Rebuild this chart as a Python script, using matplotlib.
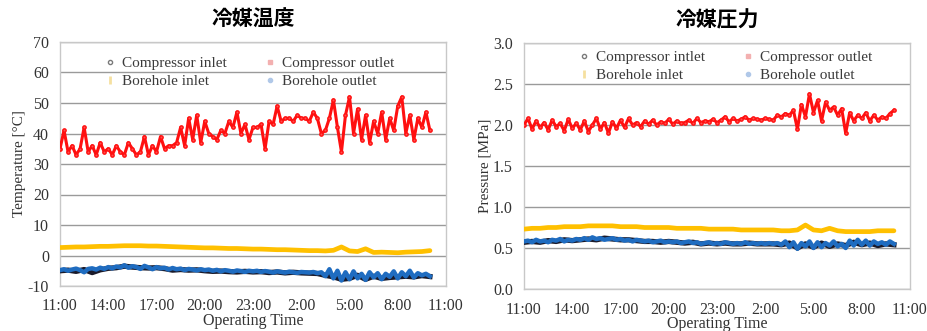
import numpy as np
import matplotlib
matplotlib.use("Agg")
import matplotlib.pyplot as plt
from matplotlib.lines import Line2D

# ---------------- data ----------------
hour_ticks = [0, 3, 6, 9, 12, 15, 18, 21, 24]
hour_labels = ["11:00", "14:00", "17:00", "20:00", "23:00", "2:00", "5:00", "8:00", "11:00"]

# Temperature [°C]  (0.25 h steps)
temp_comp_out = [35, 41, 34, 36, 33, 35, 42, 34, 36, 33, 37, 34, 35, 33, 36, 34, 33, 37, 35, 33,
                 34, 39, 33, 36, 34, 39, 35, 36, 36, 37, 42, 36, 45, 38, 46, 37, 44, 40, 39, 38,
                 41, 40, 44, 42, 47, 40, 43, 38, 42, 42, 43, 35, 44, 43, 49, 44, 45, 45, 44, 46,
                 45, 45, 44, 47, 45, 40, 41, 45, 51, 42, 34, 46, 52, 40, 48, 38, 46, 37, 44, 40,
                 47, 38, 45, 41, 49, 52, 40, 46, 38, 45, 42, 47, 41]
temp_bh_out = [-4.8, -4.5, -5.0, -4.6, -4.3, -4.8, -5.5, -4.4, -4.2, -4.6, -4.0, -4.4, -3.8,
               -4.2, -3.6, -3.9, -3.2, -4.0, -3.5, -3.8, -4.4, -3.4, -3.9, -4.5, -3.8,
               -4.2, -4.0, -4.6, -4.1, -4.5, -4.3, -4.8, -4.4, -4.6, -4.9, -4.5, -4.8,
               -4.6, -5.0, -4.7, -5.2, -4.8, -5.0, -5.3, -4.9, -5.1, -5.4, -5.0, -5.2,
               -5.0, -5.4, -5.1, -5.3, -5.6, -5.2, -5.4, -5.6, -5.3, -5.5, -5.7, -5.4,
               -5.5, -5.6, -5.4, -5.8, -5.5, -6.8, -4.5, -7.5, -5.0, -8.2, -5.5, -7.8,
               -5.2, -7.5, -6.0, -8.0, -5.5, -7.2, -5.8, -7.8, -6.0, -7.0, -5.2, -7.5,
               -5.5, -6.8, -5.0, -7.2, -5.8, -6.5, -6.0, -6.8]
# (0.5 h steps)
temp_comp_in = [-5.0, -4.8, -5.2, -4.6, -5.6, -4.7, -4.2,
                -4.0, -3.5, -3.8, -4.0, -4.1, -4.0,
                -4.3, -4.8, -4.6, -4.8, -4.7, -5.0,
                -5.2, -5.1, -5.3, -5.4, -5.2, -5.4,
                -5.3, -5.6, -5.4, -5.7, -5.5, -5.7,
                -5.8, -5.9, -6.5, -7.0, -7.8, -7.5,
                -6.5, -7.8, -6.8, -7.5, -7.2, -7.0,
                -6.8, -7.0, -6.6, -6.9]
temp_bh_in = [2.6, 2.7, 2.8, 2.8, 2.9, 3.0, 3.0, 3.1, 3.2, 3.2,
              3.2, 3.1, 3.1, 3.0, 2.9, 2.8, 2.7, 2.6, 2.5, 2.5,
              2.4, 2.3, 2.3, 2.2, 2.1, 2.1, 2.0, 1.9, 1.9, 1.8,
              1.7, 1.6, 1.6, 1.5, 1.7, 2.8, 1.5, 1.3, 2.2, 1.0,
              1.1, 1.0, 0.9, 1.1, 1.2, 1.3, 1.6]

# Pressure [MPa]  (0.25 h steps)
pres_comp_out = [2.00, 2.08, 1.95, 2.05, 1.97, 2.03, 1.94, 2.06, 1.98, 2.02, 1.93, 2.07, 1.96,
                 2.02, 1.94, 2.05, 1.92, 2.00, 2.08, 1.95, 2.03, 1.90, 2.04, 1.96, 2.06,
                 1.97, 2.08, 2.00, 2.03, 1.98, 2.05, 2.01, 2.06, 2.00, 2.04, 2.02, 2.07,
                 2.01, 2.05, 2.02, 2.03, 2.06, 2.02, 2.08, 2.03, 2.05, 2.04, 2.07, 2.03,
                 2.06, 2.10, 2.04, 2.08, 2.05, 2.07, 2.10, 2.06, 2.08, 2.07, 2.06, 2.08,
                 2.07, 2.06, 2.12, 2.10, 2.14, 2.12, 2.18, 1.95, 2.25, 2.10, 2.38, 2.15,
                 2.30, 2.05, 2.28, 2.18, 2.22, 2.12, 2.20, 1.90, 2.15, 2.05, 2.12, 2.08,
                 2.15, 2.05, 2.12, 2.06, 2.10, 2.08, 2.14, 2.18]
pres_bh_out = [0.58, 0.59, 0.57, 0.60, 0.58, 0.59, 0.57, 0.60, 0.59, 0.61, 0.58, 0.60, 0.59,
               0.61, 0.60, 0.62, 0.60, 0.63, 0.61, 0.62, 0.60, 0.61, 0.62, 0.60, 0.61,
               0.59, 0.60, 0.58, 0.60, 0.59, 0.58, 0.59, 0.57, 0.58, 0.59, 0.57, 0.58,
               0.57, 0.58, 0.56, 0.57, 0.58, 0.56, 0.57, 0.55, 0.56, 0.57, 0.55, 0.56,
               0.55, 0.57, 0.56, 0.55, 0.56, 0.55, 0.57, 0.55, 0.56, 0.55, 0.56, 0.55,
               0.56, 0.55, 0.56, 0.54, 0.58, 0.51, 0.57, 0.49, 0.56, 0.52, 0.58, 0.50,
               0.57, 0.51, 0.56, 0.53, 0.58, 0.52, 0.55, 0.50, 0.59, 0.53, 0.60, 0.54,
               0.59, 0.53, 0.58, 0.55, 0.57, 0.54, 0.58, 0.55]
# (0.5 h steps)
pres_comp_in = [0.57, 0.58, 0.57, 0.59, 0.58, 0.60, 0.59,
                0.60, 0.61, 0.60, 0.62, 0.61, 0.60,
                0.60, 0.59, 0.58, 0.58, 0.57, 0.58,
                0.57, 0.56, 0.57, 0.55, 0.56, 0.55,
                0.56, 0.55, 0.55, 0.56, 0.55, 0.55,
                0.55, 0.54, 0.56, 0.50, 0.55, 0.51,
                0.56, 0.52, 0.55, 0.53, 0.57, 0.54,
                0.56, 0.53, 0.55, 0.54]
pres_bh_in = [0.73, 0.74, 0.74, 0.75, 0.75, 0.76, 0.76, 0.76, 0.77, 0.77,
              0.77, 0.77, 0.76, 0.76, 0.76, 0.75, 0.75, 0.75, 0.75, 0.74,
              0.74, 0.74, 0.74, 0.73, 0.73, 0.73, 0.73, 0.72, 0.72, 0.72,
              0.72, 0.72, 0.71, 0.71, 0.72, 0.78, 0.72, 0.71, 0.74, 0.71,
              0.70, 0.70, 0.70, 0.70, 0.71, 0.71, 0.71]

# ---------------- style ----------------
SERIF = ["Liberation Serif", "DejaVu Serif"]
CJK = ["Noto Sans CJK JP", "DejaVu Sans"]
C_RED = "#ff1010"
C_YEL = "#ffc000"
C_BLU = "#1f6cc0"
C_BLK = "#1a1a2a"
GRID = "#9a9a9a"
FRAME = "#c8c8c8"
TXT = "#333333"


def times(vals, step):
    return np.arange(len(vals)) * step


fig = plt.figure(figsize=(9.28, 3.31), dpi=100)
ax1 = fig.add_axes([60 / 928, 1 - 286 / 331, 386 / 928, 244 / 331])
ax2 = fig.add_axes([524 / 928, 1 - 289 / 331, 386 / 928, 246 / 331])


def draw(ax, comp_in, comp_out, bh_in, bh_out):
    ax.plot(times(bh_in, 0.5), bh_in, color=C_YEL, lw=3.4, solid_capstyle="round", zorder=3)
    ax.plot(times(comp_in, 0.5), comp_in, color=C_BLK, lw=3.8, zorder=3)
    ax.plot(times(bh_out, 0.25), bh_out, color=C_BLU, lw=3.2, zorder=4)
    ax.plot(times(comp_out, 0.25), comp_out, color=C_RED, lw=2.2, marker="o", ms=2.4,
            mec=C_RED, mfc="#ff5050", zorder=5)


def style(ax, ylim, yticks, yfmt, ylabel, title, legend_labels, leg_anchor):
    ax.set_xlim(0, 24)
    ax.set_ylim(*ylim)
    ax.set_xticks(hour_ticks)
    ax.set_xticklabels(hour_labels)
    ax.set_yticks(yticks)
    ax.set_yticklabels([yfmt.format(v) for v in yticks])
    for lab in ax.get_xticklabels() + ax.get_yticklabels():
        lab.set_family(SERIF)
        lab.set_fontsize(11.5)
        lab.set_color(TXT)
    ax.tick_params(axis="x", length=0, pad=9)
    ax.tick_params(axis="y", length=0, pad=8)
    ax.grid(axis="y", color=GRID, lw=1.0, zorder=0)
    ax.set_axisbelow(True)
    for s in ax.spines.values():
        s.set_color(FRAME)
        s.set_linewidth(1.0)
    ax.set_ylabel(ylabel, family=SERIF, fontsize=11, color=TXT, labelpad=1)
    ax.set_xlabel("Operating Time", family=SERIF, fontsize=11.5, color=TXT, labelpad=-1)
    ax.set_title(title, family=CJK, fontsize=15, fontweight="bold", pad=12)
    handles = [
        Line2D([], [], ls="none", marker="o", ms=3, mfc="white", mec="#7a7a7a"),
        Line2D([], [], ls="none", marker="s", ms=3, mfc="#f3b0b0", mec="#f3b0b0"),
        Line2D([], [], ls="none", marker="|", ms=6, mec="#f5e0a0", mew=2),
        Line2D([], [], ls="none", marker="o", ms=3, mfc="#b0c8e8", mec="#b0c8e8"),
    ]
    order = [0, 2, 1, 3]
    leg = ax.legend([handles[i] for i in order], [legend_labels[i] for i in order],
                    ncol=2, frameon=False, loc="upper left", bbox_to_anchor=leg_anchor,
                    prop={"family": SERIF, "size": 11}, handlelength=0.6,
                    handletextpad=0.5, columnspacing=2.5, labelspacing=0.28,
                    borderaxespad=0, borderpad=0)
    for t in leg.get_texts():
        t.set_color("#3a3a3a")


draw(ax1, temp_comp_in, temp_comp_out, temp_bh_in, temp_bh_out)
style(ax1, (-10, 70), [-10, 0, 10, 20, 30, 40, 50, 60, 70], "{:.0f}",
      "Temperature [°C]", "冷媒温度",
      ["Compressor inlet", "Compressor outlet", "Borehole inlet", "Borehole outlet"],
      (0.118, 0.94))

draw(ax2, pres_comp_in, pres_comp_out, pres_bh_in, pres_bh_out)
style(ax2, (0, 3.0), [0.0, 0.5, 1.0, 1.5, 2.0, 2.5, 3.0], "{:.1f}",
      "Pressure [MPa]", "冷媒圧力",
      ["Compressor intlet", "Compressor outlet", "Borehole inlet", "Borehole outlet"],
      (0.144, 0.97))

fig.savefig("out.png", dpi=100, facecolor="white")
